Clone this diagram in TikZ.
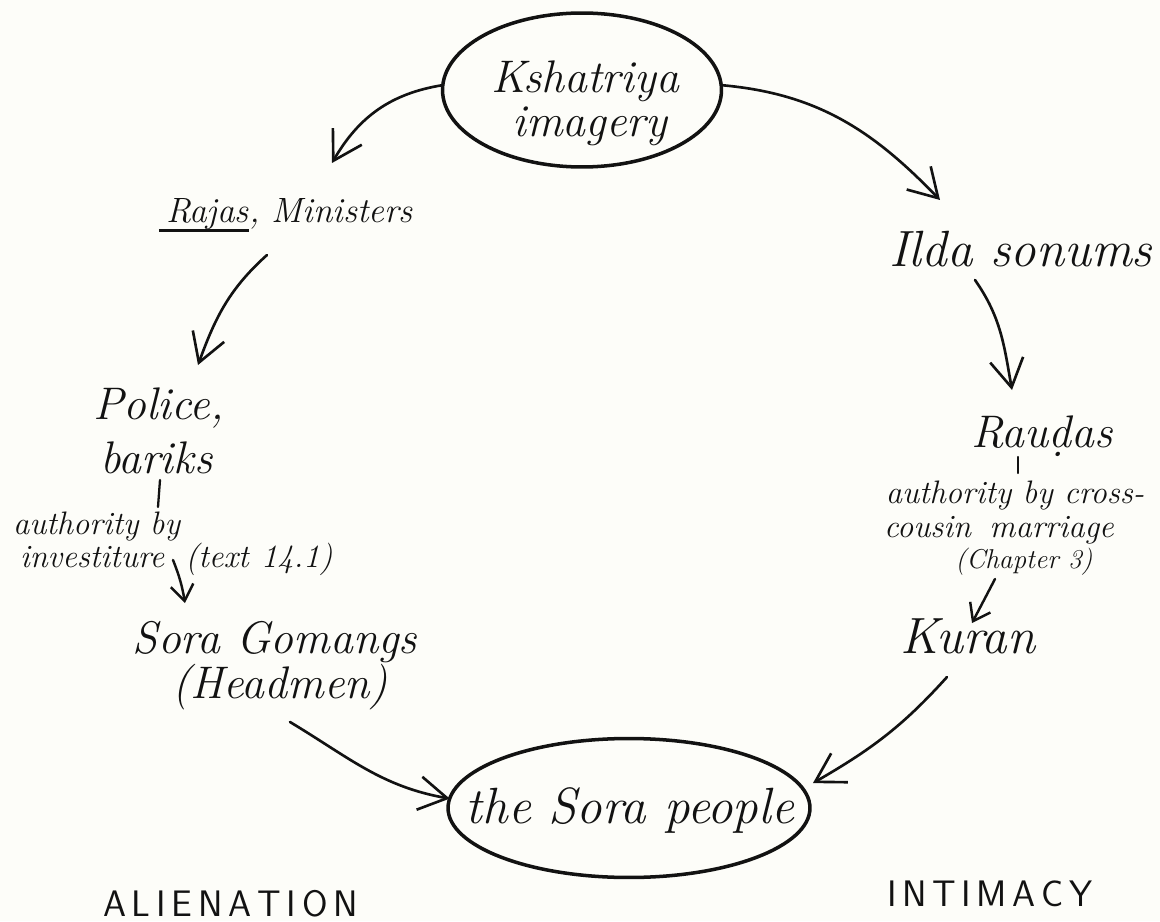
\documentclass[tikz,border=0pt]{standalone}
\usepackage{fontspec}
\usetikzlibrary{arrows.meta,shapes.geometric,calc}

\definecolor{paper}{RGB}{253,253,249}
\definecolor{ink}{RGB}{18,18,18}

% underline that sits just under the baseline, crossing descenders
\newcommand\handul[1]{\setbox0\hbox{#1}\rlap{\kern-4pt\rule[-5pt]{\dimexpr\wd0+4pt\relax}{1.4pt}}\box0}

\tikzset{
  hand/.style={font=\fontsize{26pt}{30pt}\selectfont\itshape, text=ink, inner sep=0pt, outer sep=0pt},
  handbig/.style={font=\fontsize{29pt}{33pt}\selectfont\itshape, text=ink, inner sep=0pt, outer sep=0pt},
  mid/.style={font=\fontsize{20pt}{24pt}\selectfont\itshape, text=ink, inner sep=0pt, outer sep=0pt},
  note/.style={font=\fontsize{18.5pt}{22pt}\selectfont\itshape, text=ink, inner sep=0pt, outer sep=0pt},
  small/.style={font=\fontsize{15.5pt}{18pt}\selectfont\itshape, text=ink, inner sep=0pt, outer sep=0pt},
  caps/.style={font=\fontsize{21pt}{24pt}\selectfont\sffamily, text=ink, inner sep=0pt, outer sep=0pt},
  oval/.style={ellipse, draw=ink, line width=2pt, inner sep=0pt, outer sep=0pt},
  arr/.style={draw=ink, line width=1.5pt, line cap=round, -{Straight Barb[length=16pt,width=19pt]}},
  sarr/.style={draw=ink, line width=1.4pt, line cap=round, -{Straight Barb[length=9pt,width=13pt]}},
  stroke/.style={draw=ink, line width=1.3pt, line cap=round},
}

\begin{document}
\begin{tikzpicture}[x=0.02cm,y=0.02cm]
  \fill[paper] (0,0) rectangle (1160,921);
  \useasboundingbox (0,0) rectangle (1160,921);

  % the two encircled poles
  \node[oval, minimum width=5.58cm, minimum height=3.08cm] (top) at (582,831) {};
  \node[hand, anchor=base] (kshatriya) at (585,828) {Kshatriya};
  \node[hand, anchor=base] (imagery) at (590,784) {imagery};

  \node[oval, minimum width=7.24cm, minimum height=2.78cm] (sora) at (629,113) {};
  \node[handbig, anchor=base] (people) at (630,98) {the Sora people};

  % left-hand chain
  \node[mid, anchor=base west] (rajas) at (166,698) {\handul{Rajas}, Ministers};
  \node[hand, anchor=base west] (police) at (93,501) {Police,};
  \node[hand, anchor=base west] (bariks) at (100,448) {bariks};
  \node[note, anchor=base west] (authA) at (13,387) {authority by};
  \node[note, anchor=base west] (invest) at (20,354) {investiture\hspace{12pt}(text\hspace{7pt}14.1)};
  \node[hand, anchor=base] (gomangs) at (275,268) {Sora Gomangs};
  \node[hand, anchor=base] (headmen) at (280,223) {(Headmen)};

  % right-hand chain
  \node[handbig, anchor=base] (ilda) at (1021,654) {Ilda sonums};
  \node[hand, anchor=base] (raudas) at (1042,474) {Rauḍas};
  \node[note, anchor=base] (authB) at (1015,418) {authority by cross-};
  \node[note, anchor=base] (cousin) at (999,384) {cousin\hspace{4pt} marriage};
  \node[small, anchor=base] (chapter) at (1024,353) {(Chapter 3)};
  \node[handbig, anchor=base] (kuran) at (968,268) {Kuran};

  % captions
  \node[caps, anchor=base west] (alien) at (103,5)
    {A\kern3.3pt L\kern3.3pt I\kern3.3pt E\kern3.3pt N\kern3.3pt A\kern3.3pt T\kern3.3pt I\kern3.3pt O\kern3.3pt N};
  \node[caps, anchor=base west] (intim) at (887,15)
    {I\kern3.2pt N\kern3.2pt T\kern3.2pt I\kern3.2pt M\kern3.2pt A\kern3.2pt C\kern3.2pt Y};

  % connectors, left side
  \draw[arr] (top.178) to[out=189,in=60] ($(rajas.base west)+(166,60)$);
  \draw[arr] ($(rajas.base west)+(101,-32)$) to[out=222,in=70] ($(police.base west)+(105,55)$);
  \draw[stroke] ($(bariks.base west)+(60,-7)$) -- ++(-2,-27);
  \draw[sarr] ($(invest.base west)+(153,7)$) to[bend left=6] ($(gomangs.base)+(-90,50)$);
  \draw[arr] ($(headmen.base)+(10,-24)$) to[out=-31,in=170] (sora.177);

  % connectors, right side
  \draw[arr] (top.2) to[out=-5,in=134] ($(ilda.base)+(-81,67)$);
  \draw[arr] ($(ilda.base)+(-46,-13)$) to[out=-55,in=100] ($(raudas.base)+(-30,57)$);
  \draw[stroke] ($(raudas.base)+(-24,-10)$) -- ++(0,-16);
  \draw[sarr] ($(chapter.base)+(-29,-11)$) -- ($(kuran.base)+(4,30)$);
  \draw[arr] ($(kuran.base)+(-21,-24)$) to[out=228,in=30] ($(sora.8)+(14,1)$);
\end{tikzpicture}
\end{document}
